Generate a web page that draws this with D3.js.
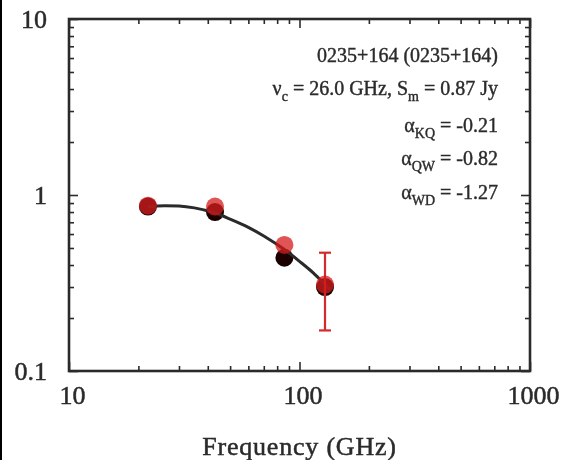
<!DOCTYPE html>
<html><head><meta charset="utf-8">
<script src="https://cdn.jsdelivr.net/npm/d3@7"></script>
<style>html,body{margin:0;padding:0;background:#fff;}svg{display:block;}</style>
</head><body>
<svg id="c" width="563" height="460"></svg>
<script>
// ---- data ----
const freqs = [22, 43, 86, 129];                 // GHz
const fluxRed = [0.87, 0.86, 0.52, 0.31];        // Jy (red markers)
const fluxBlack = [0.86, 0.80, 0.44, 0.30];      // Jy (black markers)
const errRed = [[null,null],[null,null],[null,null],[0.17,0.47]];
const fitFreq = [22, 26, 30, 35, 43, 50, 60, 70, 86, 100, 115, 129, 135];
const fitFlux = [0.86, 0.87, 0.866, 0.845, 0.79, 0.73, 0.655, 0.585, 0.49, 0.42, 0.36, 0.31, 0.292];
const xMajor = [10, 100, 1000];
const xMinor = [20,30,40,50,60,70,80,90,200,300,400,500,600,700,800,900];
const yMajor = [0.1, 1, 10];
const yMinor = [0.2,0.3,0.4,0.5,0.6,0.7,0.8,0.9,2,3,4,5,6,7,8,9];
const notes = [
  {t:"0235+164 (0235+164)"},
  {t:"ν", sub:"c", rest:" = 26.0 GHz, S", sub2:"m", rest2:" = 0.87 Jy"},
  {t:"α", sub:"KQ", rest:" = -0.21"},
  {t:"α", sub:"QW", rest:" = -0.82"},
  {t:"α", sub:"WD", rest:" = -1.27"}
];
const xTitle = "Frequency (GHz)";

// ---- chart ----
const svg = d3.select("#c");
const L = 69, R = 530, T = 19, B = 371;
const x = d3.scaleLog().domain([10, 1000]).range([L, R]);
const y = d3.scaleLog().domain([0.1, 10]).range([B, T]);
const ink = "#2a2a2a";
const font = "'Liberation Serif', 'Times New Roman', serif";

const defs = svg.append("defs");
defs.append("filter").attr("id","soft").append("feGaussianBlur").attr("stdDeviation",0.7);

// left edge scan artifact
svg.append("rect").attr("x",0).attr("y",0).attr("width",2).attr("height",460).attr("fill","#000");

const g = svg.append("g").attr("filter","url(#soft)");

function styleAxis(sel){
  sel.select(".domain").remove();
  sel.selectAll(".tick line").attr("stroke", ink).attr("stroke-width", 1.6);
  sel.selectAll(".tick text").attr("fill", ink).attr("font-family", font).attr("font-size", 26)
    .attr("stroke", ink).attr("stroke-width", 0.5);
}
// bottom
g.append("g").attr("transform",`translate(0,${B})`)
  .call(d3.axisBottom(x).tickValues(xMajor).tickSize(-9).tickPadding(15).tickFormat(d3.format("d")))
  .call(styleAxis).selectAll(".tick text").attr("dx", 3);
g.append("g").attr("transform",`translate(0,${B})`)
  .call(d3.axisBottom(x).tickValues(xMinor).tickSize(-5).tickFormat("")).call(styleAxis);
// top
g.append("g").attr("transform",`translate(0,${T})`)
  .call(d3.axisTop(x).tickValues(xMajor).tickSize(-9).tickFormat("")).call(styleAxis);
g.append("g").attr("transform",`translate(0,${T})`)
  .call(d3.axisTop(x).tickValues(xMinor).tickSize(-5).tickFormat("")).call(styleAxis);
// left
g.append("g").attr("transform",`translate(${L},0)`)
  .call(d3.axisLeft(y).tickValues(yMajor).tickSize(-9).tickPadding(22).tickFormat(d => d >= 1 ? d3.format("d")(d) : d3.format(".1f")(d)))
  .call(styleAxis);
g.append("g").attr("transform",`translate(${L},0)`)
  .call(d3.axisLeft(y).tickValues(yMinor).tickSize(-5).tickFormat("")).call(styleAxis);
// right
g.append("g").attr("transform",`translate(${R},0)`)
  .call(d3.axisRight(y).tickValues(yMajor).tickSize(-9).tickFormat("")).call(styleAxis);
g.append("g").attr("transform",`translate(${R},0)`)
  .call(d3.axisRight(y).tickValues(yMinor).tickSize(-5).tickFormat("")).call(styleAxis);

// frame
g.append("rect").attr("x",L).attr("y",T).attr("width",R-L).attr("height",B-T)
  .attr("fill","none").attr("stroke",ink).attr("stroke-width",2.6);

// x title
g.append("text").attr("x",(L+R)/2).attr("y",455).attr("text-anchor","middle")
  .attr("font-family",font).attr("font-size",26).attr("letter-spacing",0.8)
  .attr("fill",ink).attr("stroke",ink).attr("stroke-width",0.5).text(xTitle);

// annotation
const lineY = [62, 95, 132, 165, 199];
notes.forEach((n,i) => {
  const t = g.append("text").attr("x", 498).attr("y", lineY[i]).attr("text-anchor","end")
    .attr("font-family",font).attr("font-size",20).attr("fill",ink)
    .attr("stroke",ink).attr("stroke-width",0.4);
  t.append("tspan").text(n.t);
  if (n.sub){
    t.append("tspan").attr("dy",6).attr("font-size",14).text(n.sub);
    t.append("tspan").attr("dy",-6).text(n.rest);
  }
  if (n.sub2){
    t.append("tspan").attr("dy",6).attr("font-size",14).text(n.sub2);
    t.append("tspan").attr("dy",-6).text(n.rest2);
  }
});

// black points
g.append("g").selectAll("circle").data(freqs).join("circle")
  .attr("cx", d => x(d)).attr("cy", (d,i) => y(fluxBlack[i])).attr("r", 9)
  .attr("fill","#1c0404");

// fit curve
const line = d3.line().x(d => x(d[0])).y(d => y(d[1])).curve(d3.curveMonotoneX);
g.append("path").datum(fitFreq.map((f,i)=>[f, fitFlux[i]])).attr("d", line)
  .attr("fill","none").attr("stroke","#2a2a2a").attr("stroke-width",3);

// red error bars
const eb = g.append("g").attr("stroke","#d42a2a").attr("stroke-width",2.2);
errRed.forEach((e,i) => {
  if (e[0] == null) return;
  const cx = x(freqs[i]);
  eb.append("line").attr("x1",cx).attr("x2",cx).attr("y1",y(e[0])).attr("y2",y(e[1]));
  eb.append("line").attr("x1",cx-6).attr("x2",cx+6).attr("y1",y(e[0])).attr("y2",y(e[0]));
  eb.append("line").attr("x1",cx-6).attr("x2",cx+6).attr("y1",y(e[1])).attr("y2",y(e[1]));
});

// red points
g.append("g").selectAll("circle").data(freqs).join("circle")
  .attr("cx", d => x(d)).attr("cy", (d,i) => y(fluxRed[i])).attr("r", 9)
  .attr("fill","#d41a1a").attr("fill-opacity",0.75);
</script>
</body></html>
